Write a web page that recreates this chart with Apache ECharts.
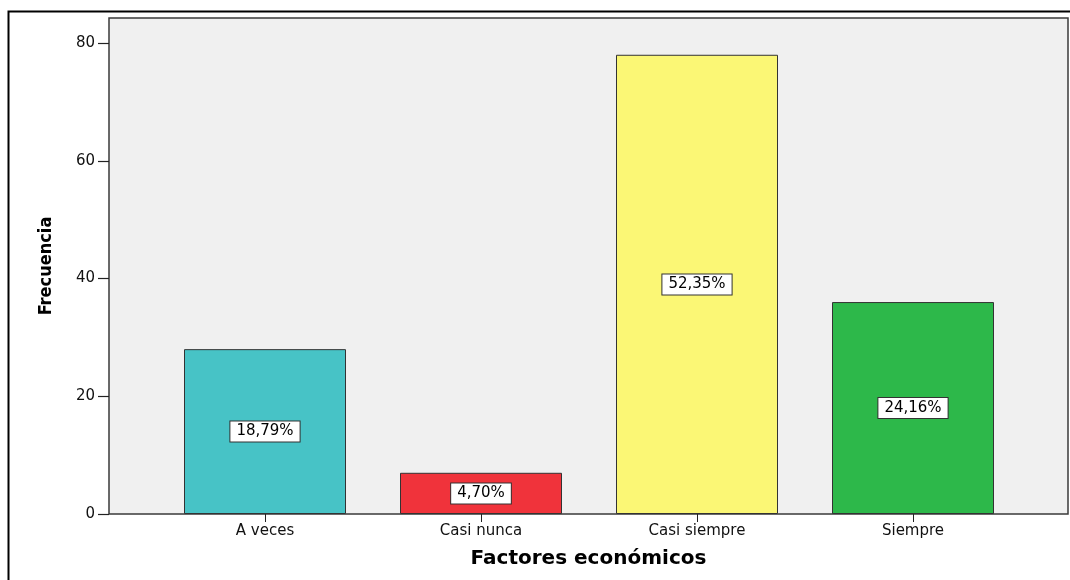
<!DOCTYPE html>
<html>
<head>
<meta charset="utf-8">
<script src="https://cdn.jsdelivr.net/npm/echarts@6/dist/echarts.min.js"></script>
<style>
  html, body { margin: 0; padding: 0; background: #ffffff; }
  #chart { width: 1070px; height: 580px; }
</style>
</head>
<body>
<div id="chart"></div>
<script>
// Frequency of responses for "Factores económicos"
const categories = ['A veces', 'Casi nunca', 'Casi siempre', 'Siempre'];
const frequencies = [28, 7, 78, 36];
const barColors = ['#47c3c6', '#f0333b', '#fbf775', '#2db84a'];
const yTickValues = [0, 20, 40, 60, 80];

const total = frequencies.reduce((a, b) => a + b, 0);
const pctLabel = v => (v / total * 100).toFixed(2).replace('.', ',') + '%';

const chart = echarts.init(document.getElementById('chart'), null, { renderer: 'canvas' });

const baseFont = 'DejaVu Sans, Liberation Sans, sans-serif';

chart.setOption({
  backgroundColor: '#ffffff',
  animation: false,
  graphic: [{
    type: 'rect',
    left: 6, top: 9, silent: true, z: -10,
    shape: { width: 1200, height: 700 },
    style: { fill: 'none', stroke: '#000000', lineWidth: 2 }
  }],
  grid: [
    // plot frame and background
    { left: 109, top: 18, width: 959, bottom: 66, show: true,
      backgroundColor: '#f0f0f0', borderColor: '#3a3a3a', borderWidth: 1.5 },
    // bars area
    { left: 157, width: 864, top: 43, bottom: 66 }
  ],
  xAxis: [
    { gridIndex: 0, type: 'value', min: 0, max: 1,
      axisLine: { show: false }, axisTick: { show: false },
      axisLabel: { show: false }, splitLine: { show: false },
      name: 'Factores económicos', nameLocation: 'middle', nameGap: 35,
      nameTextStyle: { fontFamily: baseFont, fontWeight: 'bold', fontSize: 20, color: '#000' } },
    { gridIndex: 1, type: 'category', data: categories,
      axisLine: { show: false },
      axisTick: { show: true, alignWithLabel: true, length: 8, inside: false,
        lineStyle: { color: '#222', width: 1 } },
      axisLabel: { margin: 10, fontFamily: baseFont, fontSize: 15, color: '#111' },
      splitLine: { show: false } }
  ],
  yAxis: [
    { gridIndex: 0, type: 'value', min: 0, max: 1,
      axisLine: { show: false }, axisTick: { show: false },
      axisLabel: { show: false }, splitLine: { show: false },
      name: 'Frecuencia', nameLocation: 'middle', nameGap: 54, nameRotate: 90,
      nameTextStyle: { fontFamily: 'Liberation Sans Narrow, DejaVu Sans Condensed, sans-serif',
        fontWeight: 'bold', fontSize: 18, color: '#000' } },
    { gridIndex: 1, type: 'value', min: yTickValues[0], max: yTickValues[yTickValues.length - 1],
      interval: 20, offset: 48,
      axisLine: { show: false },
      axisTick: { show: true, length: 11, lineStyle: { color: '#222', width: 1.2 } },
      axisLabel: { margin: 14, fontFamily: baseFont, fontSize: 15, color: '#111' },
      splitLine: { show: false } }
  ],
  series: [{
    type: 'bar',
    xAxisIndex: 1,
    yAxisIndex: 1,
    barWidth: '75%',
    data: frequencies.map((v, i) => ({
      value: v,
      itemStyle: { color: barColors[i] }
    })),
    itemStyle: { borderColor: '#333333', borderWidth: 1 },
    label: {
      show: true,
      position: 'inside',
      formatter: p => pctLabel(p.value),
      fontFamily: baseFont,
      fontSize: 15,
      color: '#000',
      backgroundColor: '#ffffff',
      borderColor: '#333333',
      borderWidth: 1,
      padding: [3, 6, 2, 6]
    }
  }]
});
</script>
</body>
</html>
